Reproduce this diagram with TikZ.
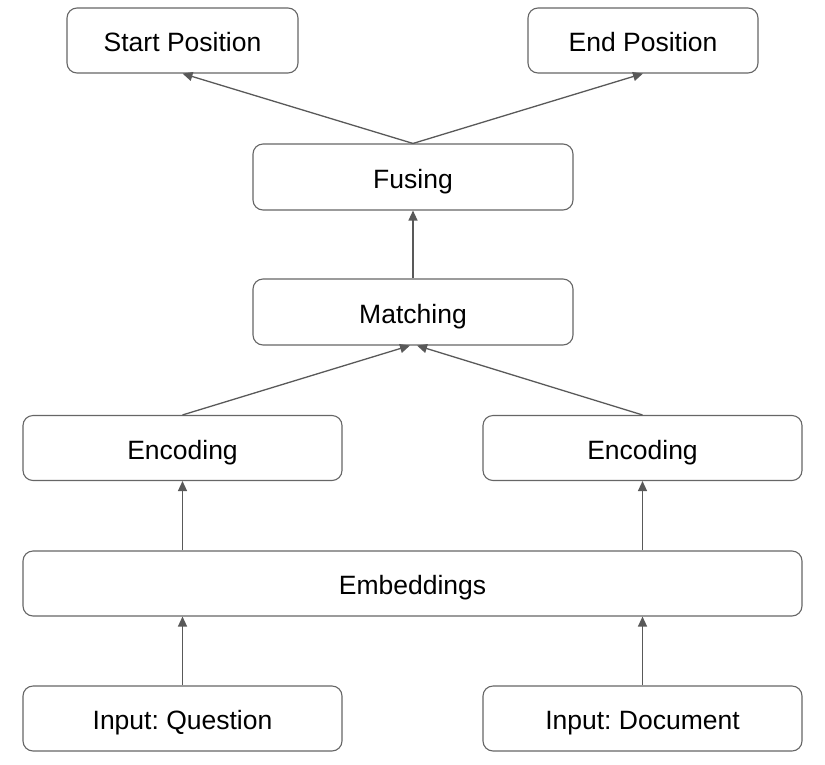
\documentclass[tikz,border=0pt]{standalone}
\usepackage{fontspec}
\setmainfont{Liberation Sans}
\usetikzlibrary{arrows.meta}
\definecolor{edgegray}{HTML}{595959}
\definecolor{boxgray}{HTML}{666666}
\frenchspacing
\begin{document}
\begin{tikzpicture}[x=1pt,y=-1pt,
  box/.style={draw=boxgray, line width=1.1pt, rounded corners=10pt, fill=white,
    font=\fontsize{26.5}{30}\selectfont, text=black, inner sep=0pt,
    text height=24pt, text depth=2pt, minimum height=65pt},
  half/.style={box, minimum width=319pt},
  conn/.style={draw=edgegray, line width=1.3pt,
    -{Triangle[length=10pt,width=9pt]}}]
\useasboundingbox (0,0) rectangle (825,764);
\node[box, minimum width=231pt] (start) at (182.5,40.5) {Start Position};
\node[box, minimum width=230pt] (end) at (643,40.5) {End Position};
\node[box, minimum width=320pt, minimum height=66pt] (fus) at (413,177) {Fusing};
\node[box, minimum width=320pt, minimum height=66pt] (mat) at (413,312) {Matching};
\node[half] (encl) at (182.5,448) {Encoding};
\node[half] (encr) at (642.5,448) {Encoding};
\node[box, minimum width=779pt] (emb) at (412.5,583.5) {Embeddings};
\node[half] (inq) at (182.5,718.5) {Input: Question};
\node[half] (ind) at (642.5,718.5) {Input: Document};
\draw[conn] (inq.north) -- (inq.north |- emb.south);
\draw[conn] (ind.north) -- (ind.north |- emb.south);
\draw[conn] (encl.south |- emb.north) -- (encl.south);
\draw[conn] (encr.south |- emb.north) -- (encr.south);
\draw[conn] (encl.north) -- ([xshift=-3pt]mat.south);
\draw[conn] (encr.north) -- ([xshift=4pt]mat.south);
\draw[conn] (mat.north) -- (fus.south);
\draw[conn] (fus.north) -- (start.south);
\draw[conn] (fus.north) -- (end.south);
\end{tikzpicture}
\end{document}
